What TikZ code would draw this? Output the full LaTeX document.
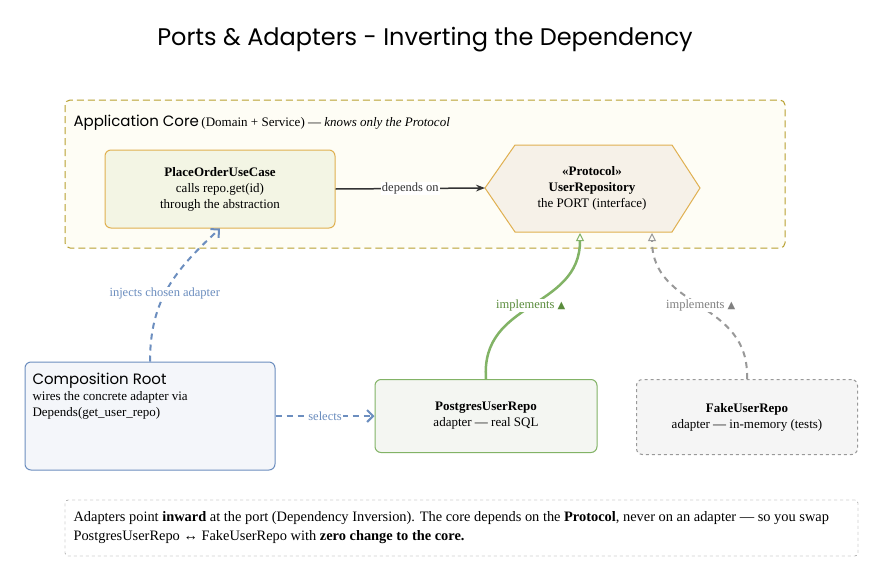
\documentclass[tikz,border=0pt]{standalone}
\usepackage{fontspec}
\setmainfont{Liberation Serif}
\newfontfamily\hand{Poppins}
\newfontfamily\dv{DejaVu Sans}
\usetikzlibrary{arrows.meta,patterns}
\definecolor{gold}{HTML}{B8A030}
\definecolor{goldb}{HTML}{E0B050}
\definecolor{cream}{HTML}{FEFDF5}
\definecolor{blu}{HTML}{6C8EBF}
\definecolor{grn}{HTML}{82B366}
\definecolor{gry}{HTML}{999999}
\definecolor{dk}{HTML}{333333}
\tikzset{
  box/.style={draw, rounded corners=6pt, line width=1pt, align=center, inner sep=0pt},
  lbl/.style={fill=white, inner sep=1pt, font=\fontsize{12.5}{14}\selectfont},
  tx/.style={font=\fontsize{13}{16}\selectfont},
}
\begin{document}
\begin{tikzpicture}[x=1pt,y=-1pt]
\useasboundingbox (0,0) rectangle (884,579);
\fill[white] (0,0) rectangle (884,579);
\node (title) at (425,40) {\hand\fontsize{24}{28}\selectfont Ports \& Adapters - Inverting the Dependency};
\draw[gold, line width=1pt, dash pattern=on 7pt off 4pt, fill=cream, rounded corners=5pt] (65,100) rectangle (785,248);
\node[anchor=west] (corelbl) at (70,123) {{\hand\fontsize{15}{18}\selectfont Application Core}\ \fontsize{13}{16}\selectfont(Domain + Service) — \textit{knows only the Protocol}};
\node[box, draw=goldb, fill={rgb,255:red,243;green,245;blue,228}, minimum width=230pt, minimum height=78pt, tx] (uc) at (220,189)
 {\textbf{PlaceOrderUseCase}\\ calls repo.get(id)\\ through the abstraction};
\coordinate (hx) at (592,188);
\draw[goldb, line width=1pt, fill={rgb,255:red,246;green,241;blue,232}] (485,188) -- (515,145) -- (672,145) -- (700,188) -- (672,232) -- (515,232) -- cycle;
\node[align=center, tx] (repo) at (hx) {\textbf{«Protocol»}\\ \textbf{UserRepository}\\ the PORT (interface)};
\coordinate (repoW) at (485,188);
\coordinate (repoS1) at (580,233);
\coordinate (repoS2) at (652,233);
\draw[dk, line width=1.5pt, -{Stealth[length=9pt,open]}] (uc.east) -- node[lbl]{depends on} (repoW);
\node[box, draw=blu, fill={rgb,255:red,244;green,246;blue,250}, minimum width=250pt, minimum height=108pt] (cr) at (150,416) {};
\node[anchor=north west, align=left, tx] (crt) at (29,370) {{\hand\fontsize{15}{18}\selectfont Composition Root}\\ wires the concrete adapter via\\ Depends(get\_user\_repo)};
\node[box, draw=grn, fill={rgb,255:red,244;green,246;blue,242}, minimum width=222pt, minimum height=73pt, tx] (pg) at (486,416)
 {\textbf{PostgresUserRepo}\\ adapter — real SQL};
\node[box, draw=gry, dashed, fill={rgb,255:red,245;green,245;blue,245}, minimum width=221pt, minimum height=75pt, tx] (fk) at (747,417)
 {\textbf{FakeUserRepo}\\ adapter — in-memory (tests)};
\draw[blu, line width=2pt, dash pattern=on 6pt off 5pt, -{Straight Barb[length=6pt]}] (cr.north) .. controls (150,300) and (175,270) .. node[pos=0.45, lbl, text=blu]{injects chosen adapter} (uc.south);
\draw[blu, line width=2pt, dash pattern=on 6pt off 5pt, -{Straight Barb[length=6pt]}] (cr.east) -- node[lbl, text=blu]{selects} (pg.west);
\draw[grn, line width=2.5pt, -{Triangle[open, length=8pt, width=8pt, line width=1pt]}] (pg.north) .. controls (480,300) and (580,310) .. node[pos=0.5, lbl, text={rgb,255:red,90;green,140;blue,60}]{implements {\dv\fontsize{10}{11}\selectfont▲}} (repoS1);
\draw[gry, line width=2pt, dash pattern=on 6pt off 5pt, -{Triangle[open, length=8pt, width=8pt, line width=1pt]}] (fk.north) .. controls (750,300) and (652,310) .. node[pos=0.5, lbl, text=gray]{implements {\dv\fontsize{10}{11}\selectfont▲}} (repoS2);
\node[draw=gry!80!black, dashed, rounded corners=3pt, minimum width=793pt, minimum height=56pt] (nt) at (461.5,528) {};
\node[anchor=west, align=left, font=\fontsize{14.4}{19}\selectfont] (ntt) at (70,528) {Adapters point \textbf{inward} at the port (Dependency Inversion). The core depends on the \textbf{Protocol}, never on an adapter — so you swap\\ PostgresUserRepo ↔ FakeUserRepo with \textbf{zero change to the core.}};
\end{tikzpicture}
\end{document}
